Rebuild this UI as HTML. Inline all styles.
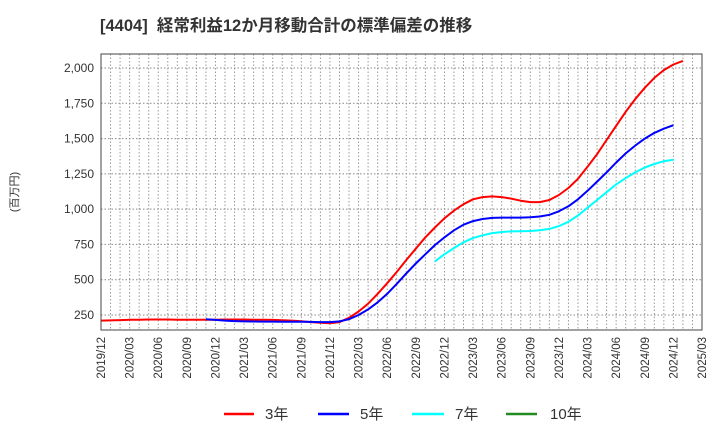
<!DOCTYPE html>
<html><head><meta charset="utf-8"><style>
body{margin:0;background:#fff;}
svg text{font-family:"Liberation Sans","Noto Sans CJK JP",sans-serif;}
</style></head><body>
<svg id="chart" width="720" height="440" xmlns="http://www.w3.org/2000/svg">
<text x="100" y="31" font-size="16.5" font-weight="bold" fill="#333" xml:space="preserve">[4404]  経常利益12か月移動合計の標準偏差の推移</text>
<text transform="translate(18,192) rotate(-90)" font-size="11" fill="#333" text-anchor="middle">(百万円)</text>
<g id="grid"></g>
<g id="yticks"></g>
<g id="xticks"></g>
<g id="series"></g>
<rect x="101" y="54" width="601" height="276" fill="none" stroke="#444" stroke-width="1"/>
<g id="legend">
 <g><line x1="224" y1="414" x2="254" y2="414" stroke="#ff0000" stroke-width="2.5"/><text x="265" y="419" font-size="15" fill="#333">3年</text></g>
 <g><line x1="318" y1="414" x2="349" y2="414" stroke="#0000ff" stroke-width="2.5"/><text x="360" y="419" font-size="15" fill="#333">5年</text></g>
 <g><line x1="412" y1="414" x2="444" y2="414" stroke="#00ffff" stroke-width="2.5"/><text x="455" y="419" font-size="15" fill="#333">7年</text></g>
 <g><line x1="506" y1="414" x2="537" y2="414" stroke="#228b22" stroke-width="2.5"/><text x="550" y="419" font-size="15" fill="#333">10年</text></g>
</g>
</svg>
<script>
const xLabels=["2019/12","2020/03","2020/06","2020/09","2020/12","2021/03","2021/06","2021/09","2021/12","2022/03","2022/06","2022/09","2022/12","2023/03","2023/06","2023/09","2023/12","2024/03","2024/06","2024/09","2024/12","2025/03"];
const yTicks=[250,500,750,1000,1250,1500,1750,2000];
const s3Start=0;
const s3=[210,212,214,216,217,218,218,218,217,217,216,216,217,218,218,218,217,216,215,213,210,206,200,195,192,200,230,275,330,400,475,555,640,720,800,870,935,990,1035,1070,1085,1090,1085,1075,1060,1050,1050,1065,1100,1150,1215,1300,1390,1490,1590,1690,1780,1860,1930,1985,2025,2050];
const s5Start=11;
const s5=[220,215,210,207,205,204,203,203,202,202,202,201,200,200,205,220,250,290,340,400,470,545,615,680,745,800,850,890,915,930,938,940,940,940,942,948,960,985,1020,1070,1130,1195,1260,1330,1395,1450,1500,1540,1570,1595];
const s7Start=35;
const s7=[630,680,725,765,795,815,830,838,842,843,845,850,860,880,910,955,1010,1065,1120,1175,1220,1260,1295,1320,1340,1350];
const NS="http://www.w3.org/2000/svg";
const L=101,R=702,T=54,B=330,nMonths=63;
const X=i=>L+(R-L)*i/nMonths;
const Y=v=>315-(v-250)*(247/1750);
function mk(tag,attrs,parent){const e=document.createElementNS(NS,tag);for(const k in attrs)e.setAttribute(k,attrs[k]);parent.appendChild(e);return e;}
const grid=document.getElementById('grid');
for(let i=1;i<nMonths;i++){const gl=mk('line',{x1:X(i),x2:X(i),y1:T,y2:B,stroke:'#999','stroke-width':1,'stroke-dasharray':'1.5,2'},grid);

}
const yt=document.getElementById('yticks');
yTicks.forEach(v=>{const gl=mk('line',{x1:L,x2:R,y1:Y(v),y2:Y(v),stroke:'#888','stroke-width':1,'stroke-dasharray':'1.5,2'},grid);


const t=mk('text',{x:L-7,y:Y(v)+4,'font-size':12,fill:'#333','text-anchor':'end'},yt);t.textContent=v.toLocaleString('en-US');

});
const xt=document.getElementById('xticks');
xLabels.forEach((lab,k)=>{const x=X(k*3);const t=mk('text',{transform:`translate(${x+4},337) rotate(-90)`,'font-size':11.5,fill:'#333','text-anchor':'end'},xt);t.textContent=lab;

});
const ser=document.getElementById('series');
function line(arr,start,color,name){const d=arr.map((v,i)=>(i?'L':'M')+X(start+i).toFixed(1)+','+Y(v).toFixed(1)).join(' ');
const p=mk('path',{d:d,fill:'none',stroke:color,'stroke-width':2,'stroke-linejoin':'round'},ser);

}
line(s3,s3Start,'#ff0000','line-3y');
line(s5,s5Start,'#0000ff','line-5y');
line(s7,s7Start,'#00ffff','line-7y');
</script>
</body></html>
